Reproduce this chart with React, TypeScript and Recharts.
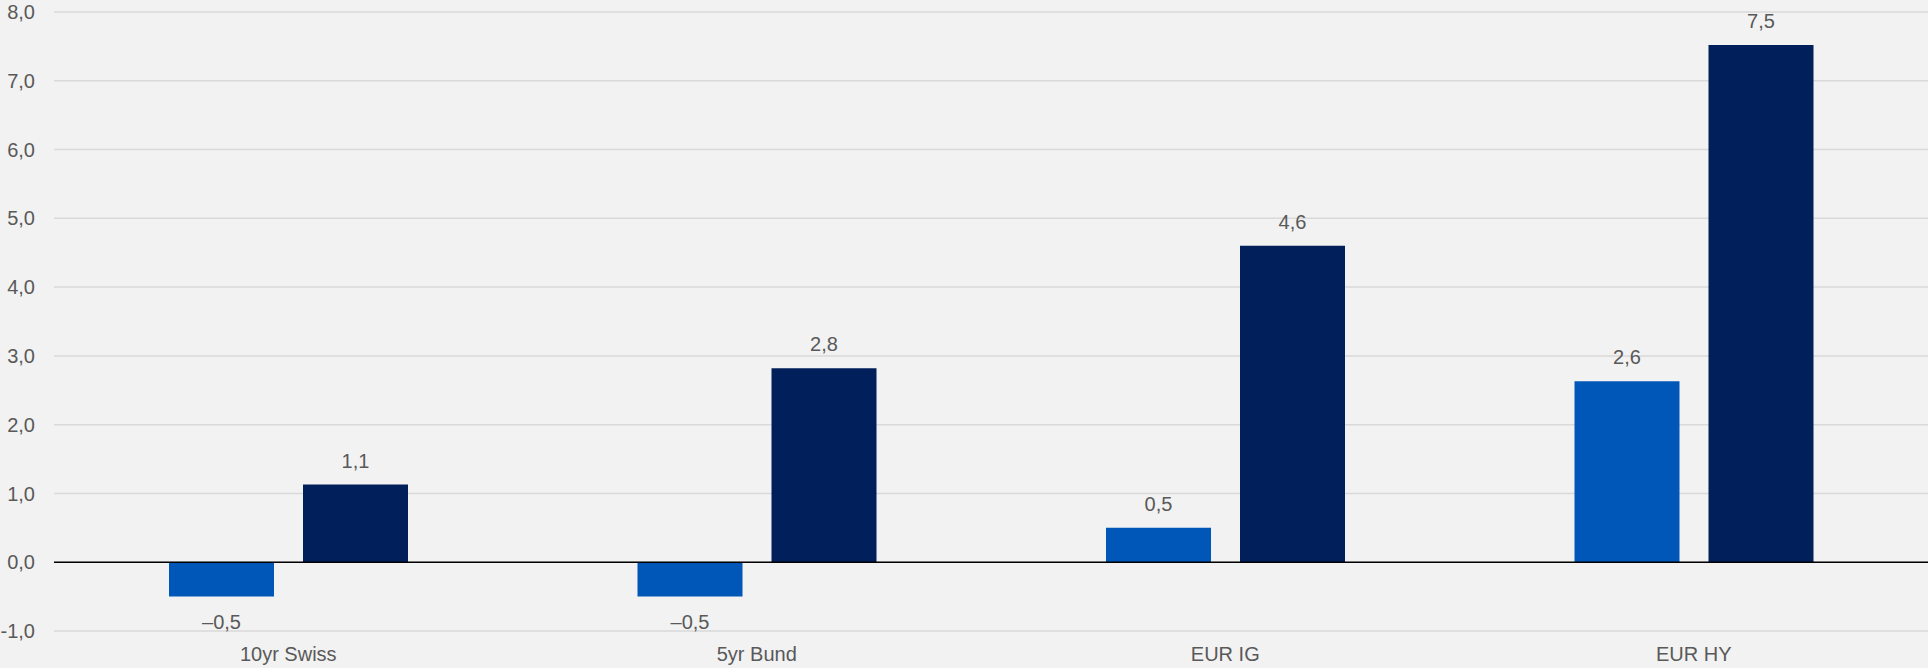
import { BarChart, Bar, XAxis, YAxis, CartesianGrid, ReferenceLine, LabelList } from "recharts";

const categories = ["10yr Swiss", "5yr Bund", "EUR IG", "EUR HY"];
const seriesA = [-0.5, -0.5, 0.5, 2.63];
const seriesB = [1.13, 2.82, 4.6, 7.52];
const yTicks = [-1, 0, 1, 2, 3, 4, 5, 6, 7, 8];

const chartData = categories.map((name, i) => ({ name, a: seriesA[i], b: seriesB[i] }));

const fmt = (v: number) => v.toFixed(1).replace(".", ",");
const fmtLabel = (v: number) => (v < 0 ? "\u2013" : "") + fmt(Math.abs(v));

const FONT = "'Liberation Sans', Arial, sans-serif";
const TEXT = "#595959";

function ValueLabel(props: any) {
  const { x, y, width, height, value } = props;
  const top = Math.min(y, y + height);
  const bottom = Math.max(y, y + height);
  const cx = x + width / 2;
  const ty = value >= 0 ? top - 17 : bottom + 32;
  return (
    <text x={cx} y={ty} textAnchor="middle" fill={TEXT} fontSize={20} fontFamily={FONT}>
      {fmtLabel(value)}
    </text>
  );
}

export default function App() {
  return (
    <div style={{ position: "absolute", left: 0, top: 0, width: 1928, height: 668, background: "#F2F2F2" }}>
      <BarChart
        width={1928}
        height={668}
        data={chartData}
        margin={{ top: 12, right: 0, left: 0, bottom: 0 }}
        barSize={105}
        barGap={29}
      >
        <CartesianGrid stroke="#D9D9D9" strokeWidth={1.5} vertical={false} />
        <XAxis
          dataKey="name"
          axisLine={false}
          tickLine={false}
          tickSize={0}
          tickMargin={16}
          height={37}
          tick={{ fill: TEXT, fontSize: 20, fontFamily: FONT }}
        />
        <YAxis
          domain={[-1, 8]}
          ticks={yTicks}
          tickFormatter={fmt}
          axisLine={false}
          tickLine={false}
          tickSize={0}
          tickMargin={19}
          width={54}
          interval={0}
          tick={{ fill: TEXT, fontSize: 20, fontFamily: FONT }}
        />
        <ReferenceLine y={0} stroke="#000000" strokeWidth={1.5} />
        <Bar dataKey="a" fill="#0057B8" isAnimationActive={false}>
          <LabelList dataKey="a" content={ValueLabel} />
        </Bar>
        <Bar dataKey="b" fill="#001F5B" isAnimationActive={false}>
          <LabelList dataKey="b" content={ValueLabel} />
        </Bar>
      </BarChart>
    </div>
  );
}
